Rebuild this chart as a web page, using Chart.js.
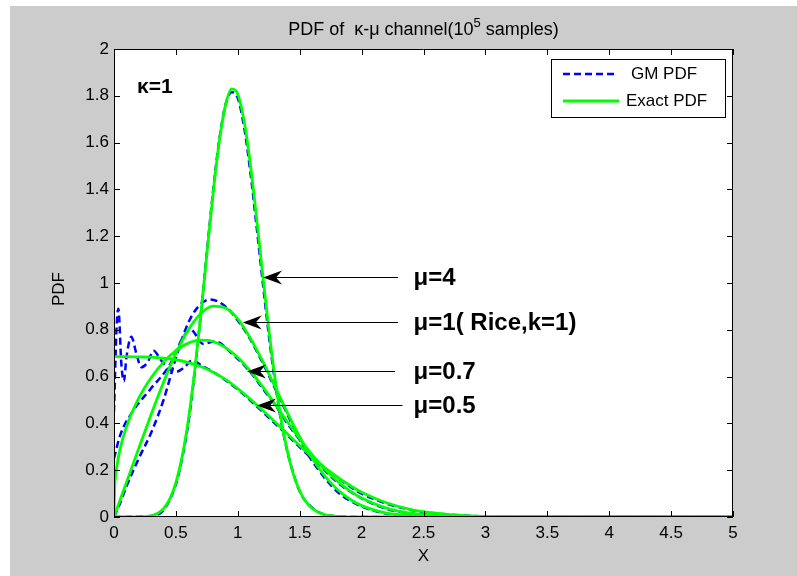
<!DOCTYPE html>
<html>
<head>
<meta charset="utf-8">
<script src="https://cdn.jsdelivr.net/npm/chart.js@4.4.0/dist/chart.umd.min.js"></script>
<style>
  html, body { margin: 0; padding: 0; background: #fff; }
  canvas { display: block; }
</style>
</head>
<body>
<canvas id="pdfChart" width="797" height="576"></canvas>
<script>
// axis ticks
const xTicks = [0, 0.5, 1, 1.5, 2, 2.5, 3, 3.5, 4, 4.5, 5];
const yTicks = [0, 0.2, 0.4, 0.6, 0.8, 1, 1.2, 1.4, 1.6, 1.8, 2];

// Exact PDF curves (green), kappa = 1
const xExact4 = [0, 0.2, 0.25, 0.3, 0.35, 0.4, 0.45, 0.5, 0.55, 0.6, 0.65, 0.7, 0.75, 0.8, 0.85, 0.9, 0.95, 1.0, 1.05, 1.1, 1.15, 1.2, 1.25, 1.3, 1.35, 1.4, 1.45, 1.5, 1.55, 1.6, 1.7, 1.8, 1.9, 2.0, 5.0];
const yExact4 = [0, 0.0003, 0.0015, 0.0052, 0.0149, 0.036, 0.0768, 0.147, 0.257, 0.413, 0.617, 0.859, 1.123, 1.381, 1.603, 1.759, 1.830, 1.807, 1.695, 1.513, 1.286, 1.042, 0.805, 0.594, 0.418, 0.282, 0.181, 0.111, 0.0655, 0.0368, 0.0102, 0.0024, 0.0005, 0, 0];

const xExact1 = [0, 0.1, 0.2, 0.3, 0.4, 0.5, 0.6, 0.7, 0.8, 0.9, 1.0, 1.1, 1.2, 1.3, 1.4, 1.5, 1.6, 1.7, 1.8, 1.9, 2.0, 2.2, 2.4, 2.6, 2.8, 3.0, 5.0];
const yExact1 = [0, 0.147, 0.294, 0.438, 0.576, 0.699, 0.800, 0.869, 0.901, 0.893, 0.847, 0.765, 0.667, 0.557, 0.446, 0.342, 0.251, 0.177, 0.120, 0.078, 0.0485, 0.0166, 0.0049, 0.0012, 0.0003, 0, 0];

const xExact07 = [0, 0.005, 0.02, 0.05, 0.1, 0.2, 0.3, 0.4, 0.5, 0.6, 0.7, 0.8, 0.9, 1.0, 1.1, 1.2, 1.3, 1.4, 1.5, 1.6, 1.7, 1.8, 1.9, 2.0, 2.2, 2.4, 2.6, 2.8, 3.0, 3.5, 5.0];
const yExact07 = [0, 0.116, 0.203, 0.292, 0.385, 0.508, 0.595, 0.662, 0.711, 0.743, 0.756, 0.750, 0.724, 0.682, 0.625, 0.557, 0.483, 0.407, 0.334, 0.266, 0.206, 0.155, 0.114, 0.081, 0.0378, 0.0157, 0.0058, 0.0019, 0.0006, 0, 0];

const xExact05 = [0, 0.1, 0.2, 0.3, 0.4, 0.5, 0.6, 0.7, 0.8, 0.9, 1.0, 1.1, 1.2, 1.3, 1.4, 1.5, 1.6, 1.7, 1.8, 1.9, 2.0, 2.2, 2.4, 2.6, 2.8, 3.0, 3.4, 5.0];
const yExact05 = [0.685, 0.685, 0.684, 0.683, 0.679, 0.672, 0.660, 0.643, 0.619, 0.588, 0.549, 0.504, 0.456, 0.407, 0.356, 0.305, 0.257, 0.212, 0.172, 0.137, 0.106, 0.061, 0.032, 0.016, 0.007, 0.003, 0.0004, 0];

// GM PDF curves (blue dashed)
const xGm4 = [0, 0.3, 0.4, 0.5, 0.55, 0.6, 0.65, 0.7, 0.75, 0.8, 0.85, 0.9, 0.95, 1.0, 1.05, 1.1, 1.15, 1.2, 1.25, 1.3, 1.35, 1.4, 1.5, 1.6, 1.7, 1.8, 2.0, 5.0];
const yGm4 = [0, 0.004, 0.03, 0.14, 0.25, 0.40, 0.61, 0.86, 1.13, 1.39, 1.61, 1.76, 1.815, 1.79, 1.67, 1.48, 1.25, 1.01, 0.78, 0.58, 0.41, 0.28, 0.11, 0.04, 0.01, 0.003, 0, 0];

const xGm1 = [0, 0.05, 0.1, 0.2, 0.3, 0.4, 0.5, 0.6, 0.7, 0.78, 0.9, 1.0, 1.1, 1.2, 1.3, 1.4, 1.5, 1.6, 1.8, 2.0, 2.2, 2.4, 2.6, 3.0, 5.0];
const yGm1 = [0, 0.06, 0.13, 0.25, 0.36, 0.50, 0.68, 0.83, 0.91, 0.93, 0.90, 0.84, 0.76, 0.66, 0.55, 0.44, 0.33, 0.24, 0.11, 0.045, 0.015, 0.005, 0.001, 0, 0];

const xGm07 = [0, 0.05, 0.15, 0.3, 0.45, 0.55, 0.62, 0.72, 0.82, 0.95, 1.1, 1.2, 1.3, 1.4, 1.5, 1.6, 1.8, 2.0, 2.2, 2.4, 2.6, 3.0, 5.0];
const yGm07 = [0.25, 0.35, 0.45, 0.55, 0.65, 0.76, 0.80, 0.74, 0.75, 0.70, 0.62, 0.55, 0.48, 0.40, 0.33, 0.26, 0.15, 0.08, 0.035, 0.015, 0.005, 0, 0];

const xGm05 = [0, 0.02, 0.035, 0.06, 0.08, 0.1, 0.14, 0.18, 0.22, 0.27, 0.32, 0.38, 0.45, 0.5, 0.57, 0.63, 0.7, 0.8, 0.9, 1.0, 1.2, 1.4, 1.6, 1.8, 2.0, 2.4, 2.8, 3.4, 5.0];
const yGm05 = [0.45, 0.80, 0.89, 0.65, 0.58, 0.68, 0.77, 0.70, 0.64, 0.66, 0.71, 0.67, 0.63, 0.62, 0.64, 0.67, 0.65, 0.62, 0.585, 0.545, 0.45, 0.35, 0.25, 0.17, 0.10, 0.03, 0.007, 0, 0];

// arrow notes: label, arrow tip (x, y), arrow tail x, text x
const noteLabels = ["\u03bc=4", "\u03bc=1( Rice,k=1)", "\u03bc=0.7", "\u03bc=0.5"];
const noteTipX = [1.204, 1.04, 1.074, 1.155];
const noteTipY = [1.026, 0.833, 0.624, 0.478];
const noteTailX = [2.294, 2.294, 2.27, 2.33];
const noteTextX = 2.42;

const pts = (xs, ys) => xs.map((x, i) => ({ x: x, y: ys[i] }));

const FONT = '"Liberation Sans", Arial, Helvetica, sans-serif';
const BLUE = "#0000ff";
const GREEN = "#00ff00";

const gmLine = (xs, ys) => ({
  data: pts(xs, ys),
  borderColor: BLUE,
  borderWidth: 2.5,
  borderDash: [7, 4],
  pointRadius: 0,
  cubicInterpolationMode: "monotone",
  order: 1,
});
const exactLine = (xs, ys) => ({
  data: pts(xs, ys),
  borderColor: GREEN,
  borderWidth: 2.8,
  pointRadius: 0,
  cubicInterpolationMode: "monotone",
  order: 0,
});

// figure background, white axes area
const backdrop = {
  id: "backdrop",
  beforeDraw(chart) {
    const { ctx, chartArea: a } = chart;
    ctx.save();
    ctx.fillStyle = "#ffffff";
    ctx.fillRect(0, 0, chart.width, chart.height);
    ctx.fillStyle = "#cccccc";
    ctx.fillRect(10, 6, chart.width - 10, chart.height - 6);
    ctx.fillStyle = "#ffffff";
    ctx.fillRect(a.left, a.top, a.right - a.left, a.bottom - a.top);
    ctx.restore();
  },
};

// box, inner ticks, texts, arrows, legend
const decor = {
  id: "decor",
  afterDatasetsDraw(chart) {
    const { ctx, chartArea: a, scales } = chart;
    const sx = scales.x, sy = scales.y;
    ctx.save();
    ctx.strokeStyle = "#000";
    ctx.lineWidth = 1;
    ctx.beginPath();
    ctx.rect(a.left + 0.5, a.top + 0.5, a.right - a.left - 1, a.bottom - a.top - 1);
    ctx.stroke();
    const tl = 6;
    ctx.beginPath();
    xTicks.forEach((v) => {
      const px = Math.round(sx.getPixelForValue(v)) + 0.5;
      ctx.moveTo(px, a.bottom); ctx.lineTo(px, a.bottom - tl);
      ctx.moveTo(px, a.top); ctx.lineTo(px, a.top + tl);
    });
    yTicks.forEach((v) => {
      const py = Math.round(sy.getPixelForValue(v)) + 0.5;
      ctx.moveTo(a.left, py); ctx.lineTo(a.left + tl, py);
      ctx.moveTo(a.right, py); ctx.lineTo(a.right - tl, py);
    });
    ctx.stroke();

    // arrows + labels
    ctx.fillStyle = "#000";
    noteLabels.forEach((lab, i) => {
      const tx = sx.getPixelForValue(noteTipX[i]);
      const ty = Math.round(sy.getPixelForValue(noteTipY[i])) + 0.5;
      const ex = sx.getPixelForValue(noteTailX[i]);
      ctx.beginPath();
      ctx.moveTo(tx + 10, ty); ctx.lineTo(ex, ty);
      ctx.stroke();
      ctx.beginPath();
      ctx.moveTo(tx, ty);
      ctx.lineTo(tx + 19, ty - 7);
      ctx.lineTo(tx + 13, ty);
      ctx.lineTo(tx + 19, ty + 7);
      ctx.closePath();
      ctx.fill();
      ctx.font = "bold 24px " + FONT;
      ctx.textBaseline = "middle";
      ctx.textAlign = "left";
      ctx.fillText(lab, sx.getPixelForValue(noteTextX), ty + 1);
    });
    ctx.font = "bold 21px " + FONT;
    ctx.fillText("\u03ba=1", a.left + 23, a.top + 38);

    // title with superscript
    ctx.font = "18px " + FONT;
    const t1 = "PDF of  \u03ba-\u03bc channel(10", t2 = "5", t3 = " samples)";
    const w1 = ctx.measureText(t1).width, w3 = ctx.measureText(t3).width;
    ctx.font = "13px " + FONT;
    const w2 = ctx.measureText(t2).width;
    let x0 = (a.left + a.right) / 2 - (w1 + w2 + w3) / 2;
    ctx.textBaseline = "alphabetic";
    ctx.font = "18px " + FONT;
    ctx.fillText(t1, x0, 35);
    ctx.font = "13px " + FONT;
    ctx.fillText(t2, x0 + w1, 27);
    ctx.font = "18px " + FONT;
    ctx.fillText(t3, x0 + w1 + w2, 35);

    // axis labels
    ctx.font = "17px " + FONT;
    ctx.textAlign = "center";
    ctx.textBaseline = "middle";
    ctx.fillText("X", (a.left + a.right) / 2, 556);
    ctx.save();
    ctx.translate(59, (a.top + a.bottom) / 2 + 6);
    ctx.rotate(-Math.PI / 2);
    ctx.fillText("PDF", 0, 0);
    ctx.restore();

    // legend
    const lx = 551, ly = 59, lw = 174, lh = 58;
    ctx.fillStyle = "#fff";
    ctx.fillRect(lx, ly, lw, lh);
    ctx.strokeRect(lx + 0.5, ly + 0.5, lw, lh);
    ctx.lineWidth = 2.5;
    ctx.strokeStyle = BLUE;
    ctx.setLineDash([7, 4]);
    ctx.beginPath(); ctx.moveTo(563, 74); ctx.lineTo(617, 74); ctx.stroke();
    ctx.setLineDash([]);
    ctx.strokeStyle = GREEN;
    ctx.lineWidth = 2.8;
    ctx.beginPath(); ctx.moveTo(563, 101); ctx.lineTo(619, 101); ctx.stroke();
    ctx.fillStyle = "#000";
    ctx.textAlign = "left";
    ctx.font = "17px " + FONT;
    ctx.fillText("GM PDF", 631, 74);
    ctx.fillText("Exact PDF", 626, 101);
    ctx.restore();
  },
};

new Chart(document.getElementById("pdfChart"), {
  type: "line",
  data: {
    datasets: [
      gmLine(xGm4, yGm4),
      gmLine(xGm1, yGm1),
      gmLine(xGm07, yGm07),
      gmLine(xGm05, yGm05),
      exactLine(xExact4, yExact4),
      exactLine(xExact1, yExact1),
      exactLine(xExact07, yExact07),
      exactLine(xExact05, yExact05),
    ],
  },
  options: {
    responsive: false,
    animation: false,
    devicePixelRatio: 1,
    layout: { padding: { left: 0, top: 49, right: 64, bottom: 0 } },
    plugins: { legend: { display: false }, tooltip: { enabled: false }, title: { display: false } },
    scales: {
      x: {
        type: "linear",
        min: 0,
        max: 5,
        grid: { display: false, drawTicks: false },
        border: { display: false },
        afterBuildTicks: (s) => { s.ticks = xTicks.map((v) => ({ value: v })); },
        afterFit: (s) => { s.height = 59; },
        ticks: { color: "#000", padding: 6, maxRotation: 0, font: { family: FONT, size: 17 }, callback: (v) => String(v) },
      },
      y: {
        type: "linear",
        min: 0,
        max: 2,
        grid: { display: false, drawTicks: false },
        border: { display: false },
        afterBuildTicks: (s) => { s.ticks = yTicks.map((v) => ({ value: v })); },
        afterFit: (s) => { s.width = 114; },
        ticks: { color: "#000", padding: 5, font: { family: FONT, size: 17 }, callback: (v) => String(v) },
      },
    },
  },
  plugins: [backdrop, decor],
});
</script>
</body>
</html>
